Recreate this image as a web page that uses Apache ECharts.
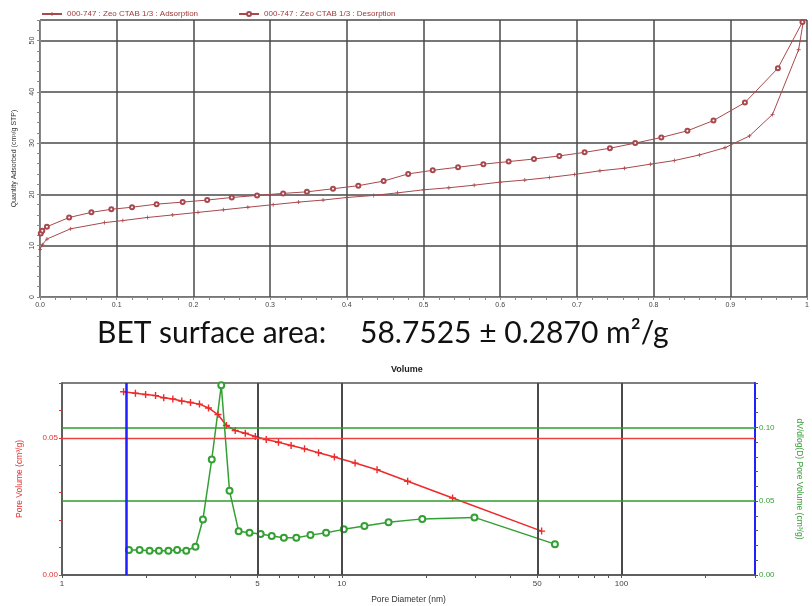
<!DOCTYPE html>
<html>
<head>
<meta charset="utf-8">
<script src="https://cdn.jsdelivr.net/npm/echarts@6/dist/echarts.min.js"></script>
<style>
  html, body { margin: 0; padding: 0; background: #fff; }
  #chart { width: 812px; height: 606px; }
</style>
</head>
<body>
<div id="chart"></div>
<script>
// isotherm (top): relative pressure vs quantity adsorbed
const adsP = [0.000, 0.003, 0.009, 0.040, 0.084, 0.108, 0.140, 0.173, 0.206, 0.239, 0.271, 0.304, 0.337, 0.369, 0.400, 0.435, 0.466, 0.500, 0.533, 0.566, 0.600, 0.632, 0.664, 0.697, 0.730, 0.762, 0.796, 0.827, 0.860, 0.893, 0.925, 0.955, 0.989, 0.995]
const adsQ = [9.3, 10.2, 11.3, 13.3, 14.5, 14.9, 15.5, 16.0, 16.5, 17.0, 17.5, 18.0, 18.5, 18.9, 19.4, 19.8, 20.3, 20.9, 21.3, 21.8, 22.4, 22.8, 23.3, 23.9, 24.6, 25.1, 25.9, 26.6, 27.7, 29.1, 31.4, 35.6, 48.2, 53.6]
const desP = [0.001, 0.003, 0.009, 0.038, 0.067, 0.093, 0.120, 0.152, 0.186, 0.218, 0.250, 0.283, 0.317, 0.348, 0.382, 0.415, 0.448, 0.480, 0.512, 0.545, 0.578, 0.611, 0.644, 0.677, 0.710, 0.743, 0.776, 0.810, 0.844, 0.878, 0.919, 0.962, 0.994]
const desQ = [12.4, 12.9, 13.7, 15.5, 16.5, 17.1, 17.5, 18.1, 18.5, 18.9, 19.4, 19.8, 20.2, 20.5, 21.1, 21.7, 22.6, 24.0, 24.7, 25.3, 25.9, 26.4, 26.9, 27.5, 28.2, 29.0, 30.0, 31.1, 32.4, 34.4, 37.9, 44.6, 53.6]

// pore size distribution (bottom)
const cumD = [1.66, 1.83, 1.99, 2.16, 2.31, 2.49, 2.68, 2.88, 3.10, 3.34, 3.61, 3.87, 4.16, 4.52, 4.91, 5.37, 5.94, 6.59, 7.36, 8.26, 9.41, 11.16, 13.37, 17.2, 24.9, 51.8]
const cumV = [0.0668, 0.0663, 0.0658, 0.0654, 0.0646, 0.0642, 0.0634, 0.0629, 0.0623, 0.0609, 0.0585, 0.0545, 0.0527, 0.0517, 0.0505, 0.0494, 0.0484, 0.0472, 0.0460, 0.0446, 0.0430, 0.0408, 0.0384, 0.0342, 0.0281, 0.0160]
const distD = [1.735, 1.894, 2.056, 2.22, 2.40, 2.58, 2.78, 3.00, 3.19, 3.43, 3.71, 3.97, 4.28, 4.68, 5.13, 5.62, 6.21, 6.88, 7.73, 8.79, 10.17, 12.05, 14.7, 19.4, 29.8, 57.8]
const distV = [0.0169, 0.0169, 0.0164, 0.0164, 0.0164, 0.0169, 0.0164, 0.0191, 0.0376, 0.0782, 0.1284, 0.0570, 0.0297, 0.0286, 0.0277, 0.0264, 0.0252, 0.0252, 0.0270, 0.0286, 0.0309, 0.0331, 0.0357, 0.0380, 0.0390, 0.0209]

const diamLabels = [1, 5, 10, 50, 100]
const diamTicks = [1, 2, 3, 4, 5, 6, 7, 8, 9, 10, 20, 30, 40, 50, 60, 70, 80, 90, 100, 200, 300]
const diamGrid = [5, 10, 50, 100]
const bjhLow = 1.7

const zip = (a, b) => a.map((v, i) => [v, b[i]])
const plus = 'path://M4,0H6V4H10V6H6V10H4V6H0V4H4Z'
const isoColor = '#a8484c'
const near = (v, t) => Math.abs(v - t) < 1e-9

const chart = echarts.init(document.getElementById('chart'))
chart.setOption({
  animation: false,
  textStyle: { fontFamily: 'Liberation Sans, Arial, sans-serif' },
  legend: {
    left: 36, top: 5, itemWidth: 20, itemHeight: 5, itemGap: 40,
    textStyle: { color: '#a03a3a', fontSize: 8 },
    data: ['000-747 : Zeo CTAB 1/3 : Adsorption', '000-747 : Zeo CTAB 1/3 : Desorption']
  },
  graphic: [
    { type: 'text', left: 97, top: 318, style: { text: 'BET surface area:', font: '30px Lato, sans-serif', fill: '#111' } },
    { type: 'text', left: 360, top: 318, style: { text: '58.7525 ± 0.2870 m²/g', font: '30px Lato, sans-serif', fill: '#111' } },
    { type: 'text', left: 391, top: 365, style: { text: 'Volume', font: 'bold 9px Liberation Sans, Arial', fill: '#222' } }
  ],
  grid: [
    { left: 40, top: 20, width: 771, height: 277 },
    { left: 62, top: 383, width: 694, height: 192, show: true, borderColor: '#555', borderWidth: 1.5 }
  ],
  xAxis: [
    {
      gridIndex: 0, type: 'value', min: 0, max: 1, interval: 0.1,
      axisLine: { lineStyle: { color: '#888' } },
      axisTick: { length: 3, lineStyle: { color: '#888' } },
      minorTick: { show: true, splitNumber: 5, length: 3, lineStyle: { color: '#888' } },
      axisLabel: { fontSize: 7, color: '#444', margin: 5, formatter: v => near(v, 1) ? '1' : v.toFixed(1) },
      splitLine: { lineStyle: { color: '#4a4a4a', width: 1.5 } }
    },
    {
      gridIndex: 1, type: 'log', logBase: 10, min: 1, max: 300,
      name: 'Pore Diameter (nm)', nameLocation: 'middle', nameGap: 20,
      nameTextStyle: { fontSize: 8.5, color: '#333' },
      axisLine: { lineStyle: { color: '#555', width: 1.5 } },
      axisTick: { customValues: diamTicks, length: 3, lineStyle: { color: '#555' } },
      axisLabel: { customValues: diamLabels, fontSize: 8, color: '#444', margin: 5 },
      splitLine: { show: false }
    }
  ],
  yAxis: [
    {
      gridIndex: 0, type: 'value', min: 0, max: 54, interval: 10,
      name: 'Quantity Adsorbed (cm³/g STP)', nameLocation: 'middle', nameGap: 22,
      nameTextStyle: { fontSize: 7, color: '#333' },
      axisLine: { show: true, lineStyle: { color: '#888' } },
      axisTick: { show: true, length: 3, lineStyle: { color: '#888' } },
      minorTick: { show: true, splitNumber: 5, length: 3, lineStyle: { color: '#888' } },
      axisLabel: { fontSize: 7, color: '#444', rotate: 90, margin: 4, formatter: v => v % 10 === 0 ? String(v) : '' },
      splitLine: { lineStyle: { color: '#4a4a4a', width: 1.5 } }
    },
    {
      gridIndex: 1, type: 'value', min: 0, max: 0.07, interval: 0.01, position: 'left',
      name: 'Pore Volume (cm³/g)', nameLocation: 'middle', nameGap: 38,
      nameTextStyle: { fontSize: 8.5, color: '#e53030' },
      axisLine: { show: true, lineStyle: { color: '#555', width: 1.5 } },
      axisTick: { show: true, length: 3, lineStyle: { color: '#e53030' } },
      axisLabel: { fontSize: 8, color: '#e53030', margin: 4, formatter: v => (near(v, 0) || near(v, 0.05)) ? v.toFixed(2) : '' },
      splitLine: { show: false }
    },
    {
      gridIndex: 1, type: 'value', min: 0, max: 0.13, interval: 0.01, position: 'right',
      name: 'dV/dlog(D) Pore Volume (cm³/g)', nameLocation: 'middle', nameGap: 40, nameRotate: -90,
      nameTextStyle: { fontSize: 8.5, color: '#3aa03a' },
      axisLine: { show: true, lineStyle: { color: '#1f1fff', width: 2 } },
      axisTick: { show: true, length: 3, lineStyle: { color: '#555' } },
      axisLabel: { fontSize: 8, color: '#3aa03a', margin: 4, formatter: v => (near(v, 0) || near(v, 0.05) || near(v, 0.1)) ? v.toFixed(2) : '' },
      splitLine: { show: false }
    }
  ],
  series: [
    {
      name: '000-747 : Zeo CTAB 1/3 : Adsorption', type: 'line', xAxisIndex: 0, yAxisIndex: 0,
      data: zip(adsP, adsQ), symbol: plus, symbolSize: 4,
      lineStyle: { color: isoColor, width: 1 }, itemStyle: { color: isoColor }
    },
    {
      name: '000-747 : Zeo CTAB 1/3 : Desorption', type: 'line', xAxisIndex: 0, yAxisIndex: 0,
      data: zip(desP, desQ), symbol: 'emptyCircle', symbolSize: 4,
      lineStyle: { color: isoColor, width: 1 }, itemStyle: { color: isoColor, borderWidth: 0.8 }
    },
    {
      name: 'grid', type: 'line', xAxisIndex: 1, yAxisIndex: 1, data: [], silent: true,
      markLine: {
        symbol: 'none', silent: true, label: { show: false },
        data: diamGrid.map(d => ({ xAxis: d, lineStyle: { color: '#4a4a4a', width: 2, type: 'solid' } }))
          .concat([{ yAxis: 0.05, lineStyle: { color: '#ee4040', width: 1.3, type: 'solid' } }])
      }
    },
    {
      name: 'grid2', type: 'line', xAxisIndex: 1, yAxisIndex: 2, data: [], silent: true,
      markLine: {
        symbol: 'none', silent: true, label: { show: false },
        data: [0.05, 0.10].map(v => ({ yAxis: v, lineStyle: { color: '#2e9e2e', width: 1.5, type: 'solid' } }))
          .concat([{ xAxis: bjhLow, lineStyle: { color: '#1f1fff', width: 2.5, type: 'solid' } }])
      }
    },
    {
      name: 'Pore Volume', type: 'line', xAxisIndex: 1, yAxisIndex: 1,
      data: zip(cumD, cumV), symbol: plus, symbolSize: 7,
      lineStyle: { color: '#ee2a2a', width: 1.5 }, itemStyle: { color: '#ee2a2a' }
    },
    {
      name: 'dV/dlog(D)', type: 'line', xAxisIndex: 1, yAxisIndex: 2,
      data: zip(distD, distV), symbol: 'emptyCircle', symbolSize: 6,
      lineStyle: { color: '#33a033', width: 1.5 }, itemStyle: { color: '#33a033', borderWidth: 1.2 }
    }
  ]
})
</script>
</body>
</html>
